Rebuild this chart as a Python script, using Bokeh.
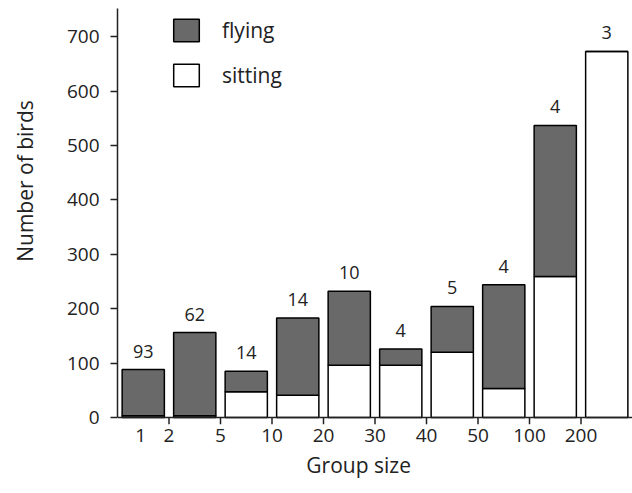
from bokeh.plotting import figure
from bokeh.models import (ColumnDataSource, Range1d, FixedTicker, Span, LabelSet,
                          Legend, LegendItem)
from bokeh.core.properties import value
from bokeh.embed import file_html
from bokeh.resources import INLINE

# ---- data ----
tick_labels = ["1", "2", "5", "10", "20", "30", "40", "50", "100", "200"]
totals = [88, 156, 85, 183, 232, 126, 204, 244, 537, 673]
sitting = [3, 3, 47, 41, 96, 96, 120, 53, 259, 673]
counts = [93, 62, 14, 14, 10, 4, 5, 4, 4, 3]

flying = [t - s for t, s in zip(totals, sitting)]
xs = [i + 0.5 for i in range(len(totals))]

FONT = "Open Sans"
TXT = "#222222"
GRAY = "#696969"
NBSP = "\u00a0"

src = ColumnDataSource(dict(x=xs, sitting=sitting, flying=flying, total=totals,
                            count=[str(c) for c in counts]))

p = figure(width=632, height=492, output_backend="svg", toolbar_location=None,
           x_range=Range1d(0, 10.0), y_range=Range1d(-13, 752),
           min_border_left=117, min_border_right=0, min_border_top=8,
           min_border_bottom=68)
p.outline_line_color = None
p.xgrid.visible = False
p.ygrid.visible = False

rs = p.vbar_stack(["sitting", "flying"], x="x", width=0.82, source=src,
                  fill_color=["white", GRAY], line_color="black", line_width=1.5)

# baseline and tick marks on x
p.add_layout(Span(location=0, dimension="width", line_color="#222222", line_width=1.5))
tick_pos = list(range(1, len(tick_labels)))
p.segment(x0=tick_pos, y0=[-13] * len(tick_pos), x1=tick_pos, y1=[0] * len(tick_pos),
          line_color="#222222", line_width=1.5)

# count labels
labels = LabelSet(x="x", y="total", text="count", source=src, y_offset=12,
                  text_align="center", text_baseline="alphabetic",
                  text_font=value(FONT), text_font_size=value("18px"),
                  text_color=TXT)
p.add_layout(labels)

# x axis
label_pos = [0.45] + tick_pos
p.xaxis.ticker = FixedTicker(ticks=label_pos)
p.xaxis.major_label_overrides = {lp: lab for lp, lab in zip(label_pos, tick_labels)}
p.xaxis.major_tick_in = 0
p.xaxis.major_tick_out = 0
p.xaxis.minor_tick_line_color = None
p.xaxis.major_label_standoff = 4
p.xaxis.axis_label = "Group size" + NBSP * 6
p.xaxis.axis_label_standoff = 6

# y axis
p.yaxis.ticker = FixedTicker(ticks=list(range(0, 800, 100)))
p.yaxis.bounds = (0, 752)
p.yaxis.major_tick_in = 0
p.yaxis.major_tick_out = 7
p.yaxis.minor_tick_line_color = None
p.yaxis.major_label_standoff = 11
p.yaxis.axis_label = NBSP * 13 + "Number of birds"
p.yaxis.axis_label_standoff = 25

for ax in (p.xaxis[0], p.yaxis[0]):
    ax.axis_line_color = "#222222" if ax is p.yaxis[0] else None
    ax.axis_line_width = 1.5
    ax.major_tick_line_color = "#222222"
    ax.major_tick_line_width = 1.5
    ax.major_label_text_font = FONT
    ax.major_label_text_font_size = "19px"
    ax.major_label_text_color = TXT
    ax.axis_label_text_font = FONT
    ax.axis_label_text_font_size = "21px"
    ax.axis_label_text_font_style = "normal"
    ax.axis_label_text_color = TXT

legend = Legend(items=[LegendItem(label="flying", renderers=[rs[1]]),
                       LegendItem(label="sitting", renderers=[rs[0]])],
                location=(53, 335))
legend.padding = 0
legend.margin = 0
legend.spacing = 17
legend.glyph_width = 32
legend.glyph_height = 28
legend.label_standoff = 20
legend.border_line_color = None
legend.background_fill_alpha = 0
legend.label_text_font = FONT
legend.label_text_font_size = "21px"
legend.label_text_color = TXT
p.add_layout(legend)

open("out.html", "w").write(file_html(p, INLINE))
